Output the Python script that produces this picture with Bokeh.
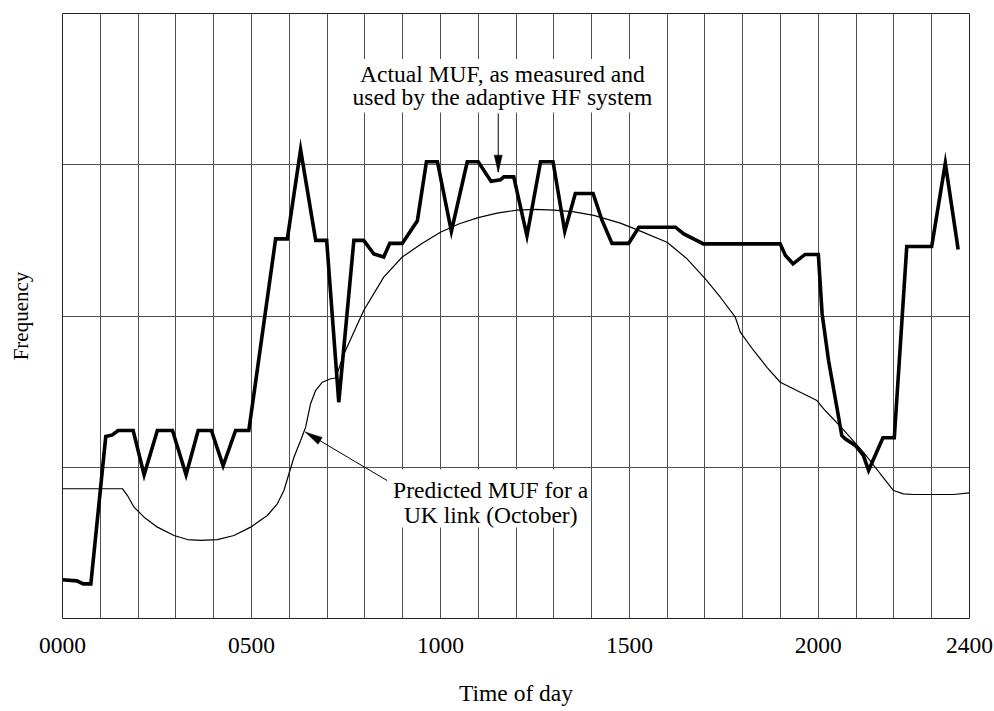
from bokeh.plotting import figure
from bokeh.models import FixedTicker, Range1d
from bokeh.core.properties import value
from bokeh.embed import file_html
from bokeh.resources import INLINE

# ---- data (hours of day, relative frequency units) ----
actual_t = [0.0, 0.38, 0.55, 0.75, 1.145, 1.32, 1.47, 1.87, 2.16, 2.51, 2.91, 3.27, 3.59, 3.94,
            4.25, 4.58, 4.93, 5.64, 5.95, 6.30, 6.70, 6.99, 7.31, 7.71, 7.97, 8.24, 8.50, 8.66,
            8.99, 9.39, 9.63, 9.92, 10.29, 10.71, 11.00, 11.34, 11.59, 11.68, 11.94, 12.29,
            12.65, 12.98, 13.29, 13.57, 14.04, 14.28, 14.54, 14.98, 15.25, 16.22, 16.44, 16.96,
            18.99, 19.13, 19.33, 19.65, 20.0, 20.10, 20.27, 20.49, 20.62, 20.71, 20.98, 21.19,
            21.33, 21.71, 22.01, 22.34, 23.00, 23.36, 23.70]
actual_f = [0.256, 0.249, 0.229, 0.229, 1.203, 1.214, 1.243, 1.243, 0.95, 1.243, 1.243, 0.95,
            1.243, 1.243, 1.01, 1.243, 1.243, 2.51, 2.51, 3.10, 2.50, 2.50, 1.43, 2.50, 2.50,
            2.41, 2.39, 2.48, 2.48, 2.63, 3.02, 3.02, 2.56, 3.02, 3.02, 2.89, 2.90, 2.92, 2.92,
            2.53, 3.02, 3.02, 2.56, 2.81, 2.81, 2.63, 2.48, 2.48, 2.587, 2.587, 2.543, 2.477,
            2.477, 2.40, 2.345, 2.407, 2.407, 2.015, 1.706, 1.397, 1.21, 1.188, 1.144, 1.078,
            0.98, 1.195, 1.195, 2.46, 2.46, 3.01, 2.44]

pred_t = [0.0, 1.586, 1.719, 1.893, 2.158, 2.512, 2.951, 3.305, 3.657, 4.098, 4.537, 4.979,
          5.420, 5.685, 5.859, 5.992, 6.124, 6.301, 6.433, 6.565, 6.697, 6.875, 7.094, 7.226,
          7.45, 7.97, 8.50, 8.99, 9.50, 10.0, 10.5, 11.0, 11.5, 12.03, 12.5, 13.0, 13.5, 14.06,
          14.763, 15.292, 15.997, 16.526, 17.01, 17.407, 17.803, 17.935, 18.287, 18.641, 18.993,
          19.522, 19.963, 20.18, 20.62, 21.19, 21.64, 21.99, 22.25, 22.52, 23.58, 24.0]
pred_f = [0.858, 0.858, 0.813, 0.736, 0.670, 0.604, 0.549, 0.522, 0.516, 0.522, 0.549, 0.604,
          0.681, 0.758, 0.846, 0.957, 1.066, 1.177, 1.265, 1.420, 1.507, 1.562, 1.585, 1.59,
          1.75, 2.036, 2.257, 2.39, 2.477, 2.554, 2.61, 2.65, 2.68, 2.70, 2.705, 2.70, 2.69,
          2.665, 2.614, 2.561, 2.488, 2.378, 2.246, 2.124, 1.992, 1.893, 1.772, 1.661, 1.562,
          1.496, 1.441, 1.375, 1.26, 1.10, 0.957, 0.846, 0.824, 0.820, 0.82, 0.83]

tick_hours = [0, 5, 10, 15, 20, 24]
tick_labels = ["0000", "0500", "1000", "1500", "2000", "2400"]

ann1_lines = ["Actual MUF, as measured and", "used by the adaptive HF system"]
ann2_lines = ["Predicted MUF for a", "UK link (October)"]

FONT = "Liberation Serif"
FS = "23.5px"
W, H = 994, 711
ML, MR, MT, MB = 62, 25, 13, 93
XMAX, YMAX = 24, 4
px_x = (W - ML - MR) / XMAX
px_y = (H - MT - MB) / YMAX

p = figure(width=W, height=H, output_backend="svg", toolbar_location=None,
           x_range=Range1d(0, XMAX), y_range=Range1d(0, YMAX),
           min_border_left=ML, min_border_right=MR, min_border_top=MT, min_border_bottom=MB)
p.background_fill_color = "white"
p.border_fill_color = "white"
p.outline_line_color = "#222222"
p.outline_line_width = 1

p.xgrid.ticker = FixedTicker(ticks=list(range(0, 25)))
p.ygrid.ticker = FixedTicker(ticks=[0, 1, 2, 3, 4])
for g in (p.xgrid, p.ygrid):
    g.grid_line_color = "#505050"
    g.grid_line_width = 1
    g.grid_line_alpha = 1.0

xa = p.xaxis[0]
xa.ticker = FixedTicker(ticks=tick_hours)
xa.major_label_overrides = {h: l for h, l in zip(tick_hours, tick_labels)}
xa.axis_line_color = None
xa.major_tick_line_color = None
xa.minor_tick_line_color = None
xa.major_tick_out = 0
xa.major_label_standoff = 19
xa.major_label_text_font = FONT
xa.major_label_text_font_size = FS
xa.major_label_text_color = "black"
xa.axis_label = "Time of day"
xa.axis_label_text_font = FONT
xa.axis_label_text_font_size = FS
xa.axis_label_text_font_style = "normal"
xa.axis_label_text_color = "black"
xa.axis_label_standoff = 24

ya = p.yaxis[0]
ya.ticker = FixedTicker(ticks=[])
ya.axis_line_color = None
ya.major_tick_line_color = None
ya.minor_tick_line_color = None
ya.major_tick_out = 0
ya.major_label_standoff = 0
ya.axis_label = "Frequency"
ya.axis_label_text_font = FONT
ya.axis_label_text_font_size = "21px"
ya.axis_label_text_font_style = "normal"
ya.axis_label_text_color = "black"
ya.axis_label_standoff = 30

# predicted (thin) and actual (thick) MUF
p.line(pred_t, pred_f, line_color="black", line_width=1.2)
p.line(actual_t, actual_f, line_color="black", line_width=3.6, line_join="miter")

# annotation boxes (white) that interrupt the grid
p.quad(left=[7.6], right=[15.75], bottom=[3.345], top=[3.70], fill_color="white", line_color=None)
p.quad(left=[8.68], right=[13.97], bottom=[0.602], top=[0.985], fill_color="white", line_color=None)

p.text(x=[11.64, 11.64], y=[3.597, 3.45], text=ann1_lines, text_align="center",
       text_baseline="alphabetic", text_font=value(FONT), text_font_size=FS, text_color="black")
p.text(x=[11.33, 11.33], y=[0.85, 0.687], text=ann2_lines, text_align="center",
       text_baseline="alphabetic", text_font=value(FONT), text_font_size=FS, text_color="black")


def arrow_head(xs, ys, xe, ye, length=17, width=8):
    dx = (xe - xs) * px_x
    dy = (ye - ys) * px_y
    d = (dx * dx + dy * dy) ** 0.5
    ux, uy = dx / d, dy / d
    bx, by = -ux * length, -uy * length
    nx, ny = -uy * width / 2, ux * width / 2
    hx = [xe, xe + (bx + nx) / px_x, xe + (bx - nx) / px_x]
    hy = [ye, ye + (by + ny) / px_y, ye + (by - ny) / px_y]
    return hx, hy


for (xs, ys, xe, ye) in [(11.53, 3.339, 11.53, 2.951), (8.59, 0.912, 6.43, 1.232)]:
    p.line([xs, xe], [ys, ye], line_color="black", line_width=1)
    hx, hy = arrow_head(xs, ys, xe, ye)
    p.patch(hx, hy, fill_color="black", line_color="black", line_width=0.5)

open("out.html", "w").write(file_html(p, INLINE))
